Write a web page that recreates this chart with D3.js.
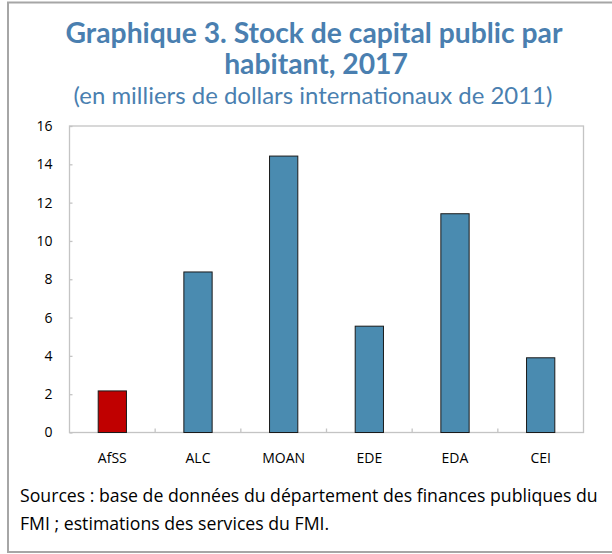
<!DOCTYPE html>
<html>
<head>
<meta charset="utf-8">
<script src="https://cdn.jsdelivr.net/npm/d3@7"></script>
<style>
  html, body { margin: 0; padding: 0; background: #fff; }
  svg { display: block; font-family: "Open Sans", "Noto Sans", sans-serif; }
</style>
</head>
<body>
<div id="chart"></div>
<script>
// ---- Data
const regions = ['AfSS', 'ALC', 'MOAN', 'EDE', 'EDA', 'CEI'];
const stock = [2.17, 8.38, 14.43, 5.55, 11.42, 3.9];
const highlighted = ['AfSS'];
const yTicks = [0, 2, 4, 6, 8, 10, 12, 14, 16];

const titleLines = ['Graphique 3. Stock de capital public par', 'habitant, 2017'];
const subtitle = '(en milliers de dollars internationaux de 2011)';
const sourceLines = [
    'Sources : base de données du département des finances publiques du',
    'FMI ; estimations des services du FMI.'
];

const W = 612, H = 554;
const margin = { top: 126, right: 28.5, bottom: 121.5, left: 69.5 };
const blue = '#4a7fb0';
const headFont = 'Lato, "Open Sans", sans-serif';

const svg = d3.select('#chart').append('svg')
    .attr('width', W)
    .attr('height', H);

// ---- Outer frame
svg.append('rect')
    .attr('x', 8).attr('y', 2.5)
    .attr('width', W + 10).attr('height', 549.5)
    .attr('fill', 'none')
    .attr('stroke', '#a6a6a6')
    .attr('stroke-width', 2);

// Fit a text element to a target width by scaling its font size
function fitWidth(sel, target) {
    const len = sel.node().getComputedTextLength();
    const fs = parseFloat(sel.attr('font-size'));
    const size = fs * target / len;
    sel.attr('font-size', size);
    return size;
}

// ---- Title
const t1 = svg.append('text')
    .attr('x', 314).attr('y', 43)
    .attr('text-anchor', 'middle')
    .attr('font-family', headFont)
    .attr('font-size', 22)
    .attr('font-weight', 700)
    .attr('fill', blue)
    .text(titleLines[0]);
const titleSize = fitWidth(t1, 497);

svg.append('text')
    .attr('x', 316).attr('y', 74)
    .attr('text-anchor', 'middle')
    .attr('font-family', headFont)
    .attr('font-size', titleSize)
    .attr('font-weight', 700)
    .attr('fill', blue)
    .text(titleLines[1]);

const sub = svg.append('text')
    .attr('x', 313).attr('y', 104)
    .attr('text-anchor', 'middle')
    .attr('font-family', headFont)
    .attr('font-size', 20)
    .attr('fill', blue)
    .text(subtitle);
fitWidth(sub, 479);

// ---- Scales
const width = W - margin.left - margin.right;
const height = H - margin.top - margin.bottom;

const x = d3.scaleBand()
    .domain(regions)
    .range([0, width])
    .paddingInner(0.67)
    .paddingOuter(0.335);

const y = d3.scaleLinear()
    .domain([0, 16])
    .range([height, 0]);

const g = svg.append('g')
    .attr('transform', `translate(${margin.left},${margin.top})`);

// ---- Plot box
g.append('rect')
    .attr('x', 0).attr('y', 0)
    .attr('width', width).attr('height', height)
    .attr('fill', 'none')
    .attr('stroke', '#c4c4c4')
    .attr('stroke-width', 1.3);

// ---- Y axis (ticks inside)
const yAxis = g.append('g')
    .call(d3.axisLeft(y).tickValues(yTicks).tickSize(-3).tickPadding(17));
yAxis.select('.domain').remove();
yAxis.selectAll('.tick line').attr('stroke', '#c4c4c4').attr('stroke-width', 1.3);
yAxis.selectAll('.tick text')
    .attr('font-size', 14)
    .attr('fill', '#000')
    .attr('font-family', '"Open Sans", sans-serif');

// ---- X axis: band boundary ticks pointing up
const step = x.step();
const boundaries = d3.range(1, regions.length).map(i => i * step);
g.append('g')
    .selectAll('line')
    .data(boundaries)
    .join('line')
    .attr('x1', d => d).attr('x2', d => d)
    .attr('y1', height).attr('y2', height - 4)
    .attr('stroke', '#c4c4c4')
    .attr('stroke-width', 1.3);

g.append('g')
    .selectAll('text')
    .data(regions)
    .join('text')
    .attr('x', d => x(d) + x.bandwidth() / 2)
    .attr('y', height + 30)
    .attr('text-anchor', 'middle')
    .attr('font-size', 14)
    .attr('fill', '#000')
    .text(d => d);

// ---- Bars
g.append('g')
    .selectAll('rect')
    .data(regions.map((r, i) => ({ r, v: stock[i] })))
    .join('rect')
    .attr('x', d => x(d.r))
    .attr('y', d => y(d.v))
    .attr('width', x.bandwidth())
    .attr('height', d => y(0) - y(d.v))
    .attr('fill', d => highlighted.includes(d.r) ? '#c00000' : '#4a8bb0')
    .attr('stroke', '#1a1a1a')
    .attr('stroke-width', 1);

// ---- Sources
const s1 = svg.append('text')
    .attr('x', 20).attr('y', 502)
    .attr('font-size', 15)
    .attr('fill', '#000')
    .text(sourceLines[0]);
const srcSize = fitWidth(s1, 578);
svg.append('text')
    .attr('x', 20).attr('y', 530)
    .attr('font-size', srcSize)
    .attr('fill', '#000')
    .text(sourceLines[1]);
</script>
</body>
</html>
